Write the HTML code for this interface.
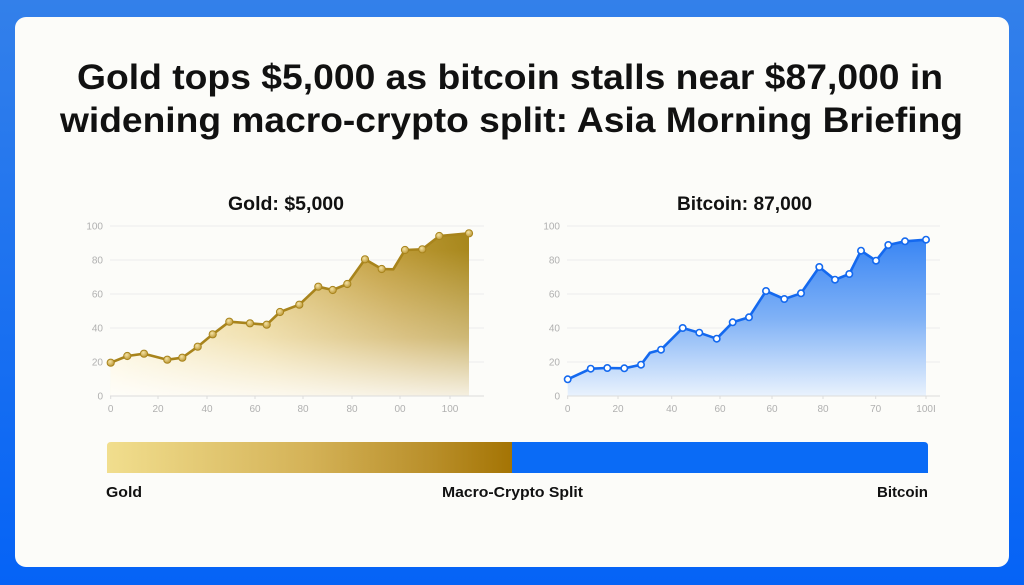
<!DOCTYPE html>
<html><head><meta charset="utf-8"><style>
html,body{margin:0;padding:0;width:1024px;height:585px;overflow:hidden;background:#1f6ff0}
svg{display:block}
</style></head><body>
<svg width="1024" height="585" viewBox="0 0 1024 585" xmlns="http://www.w3.org/2000/svg" font-family="'Liberation Sans', sans-serif">
<defs>
<linearGradient id="bg" x1="0" y1="0" x2="0" y2="1">
<stop offset="0" stop-color="#3380ea"/><stop offset="1" stop-color="#0563f6"/>
</linearGradient>
<linearGradient id="gfill" gradientUnits="userSpaceOnUse" x1="110" y1="396" x2="470" y2="233">
<stop offset="0" stop-color="#fdf5d6"/><stop offset="0.4" stop-color="#ead28a"/><stop offset="0.75" stop-color="#c4a040"/><stop offset="1" stop-color="#a6861a"/>
</linearGradient>
<linearGradient id="gfade" gradientUnits="userSpaceOnUse" x1="0" y1="250" x2="0" y2="396">
<stop offset="0" stop-color="#ffffff" stop-opacity="0"/><stop offset="0.6" stop-color="#ffffff" stop-opacity="0.35"/><stop offset="1" stop-color="#ffffff" stop-opacity="0.85"/>
</linearGradient>
<linearGradient id="bfill" gradientUnits="userSpaceOnUse" x1="0" y1="240" x2="0" y2="396">
<stop offset="0" stop-color="#3a86f4"/><stop offset="0.5" stop-color="#7fb1f6"/><stop offset="1" stop-color="#e9f2fd"/>
</linearGradient>
<linearGradient id="gbar" x1="0" y1="0" x2="1" y2="0">
<stop offset="0" stop-color="#f1de8e"/><stop offset="0.5" stop-color="#d4b257"/><stop offset="0.8" stop-color="#b98f2a"/><stop offset="1" stop-color="#a47404"/>
</linearGradient>
<radialGradient id="gdot" cx="0.4" cy="0.35" r="0.7">
<stop offset="0" stop-color="#f5e3a4"/><stop offset="1" stop-color="#b8922e"/>
</radialGradient>
</defs>
<rect width="1024" height="585" fill="url(#bg)"/>
<rect x="15" y="17" width="994" height="550" rx="11" fill="#fcfcf9"/>

<!-- Title -->
<text x="77" y="89" font-size="35" font-weight="bold" fill="#111" textLength="866" lengthAdjust="spacingAndGlyphs">Gold tops $5,000 as bitcoin stalls near $87,000 in</text>
<text x="60" y="132" font-size="35" font-weight="bold" fill="#111" textLength="903" lengthAdjust="spacingAndGlyphs">widening macro-crypto split: Asia Morning Briefing</text>

<!-- Chart titles -->
<text x="228" y="210" font-size="19" font-weight="bold" fill="#111" textLength="116" lengthAdjust="spacingAndGlyphs">Gold: $5,000</text>
<text x="677" y="210" font-size="19" font-weight="bold" fill="#111" textLength="135" lengthAdjust="spacingAndGlyphs">Bitcoin: 87,000</text>

<!-- Gold chart grid -->
<g stroke="#ededed" stroke-width="1">
<line x1="110" y1="226" x2="484" y2="226"/><line x1="110" y1="260" x2="484" y2="260"/>
<line x1="110" y1="294" x2="484" y2="294"/><line x1="110" y1="328" x2="484" y2="328"/>
<line x1="110" y1="362" x2="484" y2="362"/>
</g>
<g font-size="10" fill="#b0b0b0" text-anchor="end">
<text x="103" y="229.5">100</text><text x="103" y="263.5">80</text><text x="103" y="297.5">60</text>
<text x="103" y="331.5">40</text><text x="103" y="365.5">20</text><text x="103" y="399.5">0</text>
</g>
<polygon fill="url(#gfill)" points="110.7,362.7 127.3,356 144,353.7 167.3,359.7 182.3,357.7 197.7,346.7 212.7,334.3 229.3,321.7 250,323.3 266.7,324.7 280,312 299.3,304.7 318.3,286.7 332.7,290 347.3,284 365,259.3 381.7,269 393.3,269.3 405,250 422.3,249.3 439.3,236 469,233.3 469,396 110.7,396"/>
<polygon fill="url(#gfade)" points="110.7,362.7 127.3,356 144,353.7 167.3,359.7 182.3,357.7 197.7,346.7 212.7,334.3 229.3,321.7 250,323.3 266.7,324.7 280,312 299.3,304.7 318.3,286.7 332.7,290 347.3,284 365,259.3 381.7,269 393.3,269.3 405,250 422.3,249.3 439.3,236 469,233.3 469,396 110.7,396"/>
<line x1="110" y1="396" x2="484" y2="396" stroke="#dcdcdc" stroke-width="1"/>
<g stroke="#dcdcdc"><line x1="110.7" y1="396" x2="110.7" y2="399"/><line x1="158" y1="396" x2="158" y2="399"/><line x1="207" y1="396" x2="207" y2="399"/><line x1="255" y1="396" x2="255" y2="399"/><line x1="303" y1="396" x2="303" y2="399"/><line x1="352" y1="396" x2="352" y2="399"/><line x1="400" y1="396" x2="400" y2="399"/><line x1="450" y1="396" x2="450" y2="399"/></g>
<polyline fill="none" stroke="#a8841c" stroke-width="2.6" stroke-linejoin="round" points="110.7,362.7 127.3,356 144,353.7 167.3,359.7 182.3,357.7 197.7,346.7 212.7,334.3 229.3,321.7 250,323.3 266.7,324.7 280,312 299.3,304.7 318.3,286.7 332.7,290 347.3,284 365,259.3 381.7,269 393.3,269.3 405,250 422.3,249.3 439.3,236 469,233.3"/>
<g fill="url(#gdot)" stroke="#a8841c" stroke-width="1">
<circle cx="110.7" cy="362.7" r="3.6"/><circle cx="127.3" cy="356" r="3.6"/><circle cx="144" cy="353.7" r="3.6"/><circle cx="167.3" cy="359.7" r="3.6"/><circle cx="182.3" cy="357.7" r="3.6"/><circle cx="197.7" cy="346.7" r="3.6"/><circle cx="212.7" cy="334.3" r="3.6"/><circle cx="229.3" cy="321.7" r="3.6"/><circle cx="250" cy="323.3" r="3.6"/><circle cx="266.7" cy="324.7" r="3.6"/><circle cx="280" cy="312" r="3.6"/><circle cx="299.3" cy="304.7" r="3.6"/><circle cx="318.3" cy="286.7" r="3.6"/><circle cx="332.7" cy="290" r="3.6"/><circle cx="347.3" cy="284" r="3.6"/><circle cx="365" cy="259.3" r="3.6"/><circle cx="381.7" cy="269" r="3.6"/><circle cx="405" cy="250" r="3.6"/><circle cx="422.3" cy="249.3" r="3.6"/><circle cx="439.3" cy="236" r="3.6"/><circle cx="469" cy="233.3" r="3.6"/>
</g>
<g font-size="10" fill="#b0b0b0" text-anchor="middle">
<text x="110.7" y="412">0</text><text x="158" y="412">20</text><text x="207" y="412">40</text><text x="255" y="412">60</text><text x="303" y="412">80</text><text x="352" y="412">80</text><text x="400" y="412">00</text><text x="450" y="412">100</text>
</g>

<!-- Bitcoin chart grid -->
<g stroke="#ededed" stroke-width="1">
<line x1="567" y1="226" x2="940" y2="226"/><line x1="567" y1="260" x2="940" y2="260"/>
<line x1="567" y1="294" x2="940" y2="294"/><line x1="567" y1="328" x2="940" y2="328"/>
<line x1="567" y1="362" x2="940" y2="362"/>
</g>
<g font-size="10" fill="#b0b0b0" text-anchor="end">
<text x="560" y="229.5">100</text><text x="560" y="263.5">80</text><text x="560" y="297.5">60</text>
<text x="560" y="331.5">40</text><text x="560" y="365.5">20</text><text x="560" y="399.5">0</text>
</g>
<polygon fill="url(#bfill)" points="567.7,379.3 590.7,368.7 607.3,368 624.3,368.3 641,364.7 650,352.7 661,349.7 682.7,328 699.3,332.7 716.7,338.7 732.7,322.3 749,317.3 766,291 784.3,299 801,293.3 819.3,267 835,279.7 849.3,274 861,250.7 876,260.7 888.3,245 905,241.3 926,239.7 926,396 567.7,396"/>
<line x1="567" y1="396" x2="940" y2="396" stroke="#dcdcdc" stroke-width="1"/>
<g stroke="#dcdcdc"><line x1="567.7" y1="396" x2="567.7" y2="399"/><line x1="618" y1="396" x2="618" y2="399"/><line x1="671.7" y1="396" x2="671.7" y2="399"/><line x1="720" y1="396" x2="720" y2="399"/><line x1="772" y1="396" x2="772" y2="399"/><line x1="823" y1="396" x2="823" y2="399"/><line x1="875.7" y1="396" x2="875.7" y2="399"/><line x1="926" y1="396" x2="926" y2="399"/></g>
<polyline fill="none" stroke="#1469ef" stroke-width="2.6" stroke-linejoin="round" points="567.7,379.3 590.7,368.7 607.3,368 624.3,368.3 641,364.7 650,352.7 661,349.7 682.7,328 699.3,332.7 716.7,338.7 732.7,322.3 749,317.3 766,291 784.3,299 801,293.3 819.3,267 835,279.7 849.3,274 861,250.7 876,260.7 888.3,245 905,241.3 926,239.7"/>
<g fill="#ffffff" stroke="#1469ef" stroke-width="1.6">
<circle cx="567.7" cy="379.3" r="3.2"/><circle cx="590.7" cy="368.7" r="3.2"/><circle cx="607.3" cy="368" r="3.2"/><circle cx="624.3" cy="368.3" r="3.2"/><circle cx="641" cy="364.7" r="3.2"/><circle cx="661" cy="349.7" r="3.2"/><circle cx="682.7" cy="328" r="3.2"/><circle cx="699.3" cy="332.7" r="3.2"/><circle cx="716.7" cy="338.7" r="3.2"/><circle cx="732.7" cy="322.3" r="3.2"/><circle cx="749" cy="317.3" r="3.2"/><circle cx="766" cy="291" r="3.2"/><circle cx="784.3" cy="299" r="3.2"/><circle cx="801" cy="293.3" r="3.2"/><circle cx="819.3" cy="267" r="3.2"/><circle cx="835" cy="279.7" r="3.2"/><circle cx="849.3" cy="274" r="3.2"/><circle cx="861" cy="250.7" r="3.2"/><circle cx="876" cy="260.7" r="3.2"/><circle cx="888.3" cy="245" r="3.2"/><circle cx="905" cy="241.3" r="3.2"/><circle cx="926" cy="239.7" r="3.2"/>
</g>
<g font-size="10" fill="#b0b0b0" text-anchor="middle">
<text x="567.7" y="412">0</text><text x="618" y="412">20</text><text x="671.7" y="412">40</text><text x="720" y="412">60</text><text x="772" y="412">60</text><text x="823" y="412">80</text><text x="875.7" y="412">70</text><text x="926" y="412">100I</text>
</g>

<!-- Split bar -->
<path d="M107,446 Q107,442 111,442 L512,442 L512,473 L107,473 Z" fill="url(#gbar)"/>
<path d="M512,442 L924,442 Q928,442 928,446 L928,473 L512,473 Z" fill="#0a6bf6"/>
<g font-size="15" font-weight="bold" fill="#111">
<text x="106" y="497" textLength="36" lengthAdjust="spacingAndGlyphs">Gold</text>
<text x="442" y="497" textLength="141" lengthAdjust="spacingAndGlyphs">Macro-Crypto Split</text>
<text x="877" y="497" textLength="51" lengthAdjust="spacingAndGlyphs">Bitcoin</text>
</g>
</svg>
</body></html>
